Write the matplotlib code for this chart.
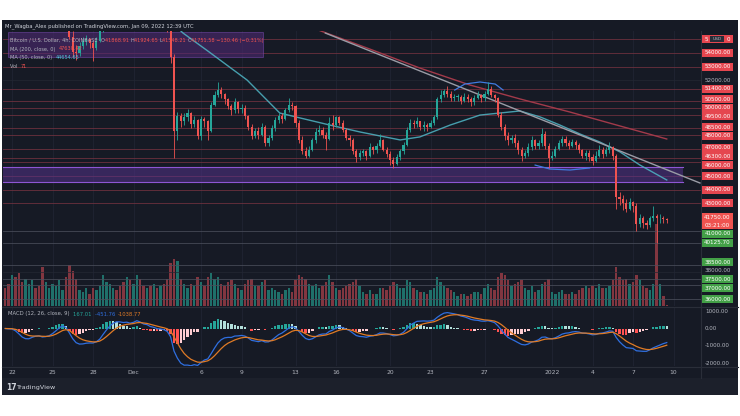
import numpy as np
import pandas as pd
import matplotlib
matplotlib.use("Agg")
import matplotlib.pyplot as plt
from matplotlib.patches import Rectangle
from matplotlib.lines import Line2D

# ---------------------------------------------------------------- data
# 6h candles, prices in thousand USD
candle_start = "2021-11-21 12:00"
candle_freq = "6h"
first_open_k = 59.0

closes_k = [
    58.9, 58.7,                 # Nov 21
    58.8, 57.9, 57.0, 56.3,     # Nov 22
    56.5, 56.9, 57.6, 57.5,     # Nov 23
    57.2, 56.4, 56.9, 57.1,     # Nov 24
    57.8, 58.4, 58.9, 58.9,     # Nov 25
    57.3, 55.2, 54.1, 54.0,     # Nov 26
    54.5, 54.9, 55.0, 54.7,     # Nov 27
    54.4, 54.9, 55.6, 57.0,     # Nov 28
    57.5, 57.9, 58.0, 57.8,     # Nov 29
    57.3, 57.1, 57.6, 57.0,     # Nov 30
    57.9, 58.5, 57.3, 56.9,     # Dec 1
    57.3, 56.6, 56.9, 56.5,     # Dec 2
    56.8, 56.6, 55.9, 53.7,     # Dec 3
    48.3, 49.4, 49.0, 49.3,     # Dec 4
    49.6, 48.8, 49.1, 47.9,     # Dec 5
    49.2, 49.0, 48.3, 50.2,     # Dec 6
    50.9, 51.3, 51.0, 50.6,     # Dec 7
    50.1, 49.8, 50.4, 49.9,     # Dec 8
    50.0, 49.4, 48.6, 47.9,     # Dec 9
    48.3, 48.0, 48.6, 47.4,     # Dec 10
    47.8, 48.5, 49.1, 49.4,     # Dec 11
    49.2, 49.8, 50.2, 50.1,     # Dec 12
    48.9, 47.6, 46.8, 46.5,     # Dec 13
    46.9, 47.6, 48.2, 48.4,     # Dec 14
    48.0, 47.7, 48.9, 48.7,     # Dec 15
    49.3, 48.9, 48.4, 47.8,     # Dec 16
    47.6, 46.8, 46.4, 46.7,     # Dec 17
    46.8, 46.5, 47.1, 46.9,     # Dec 18
    47.2, 47.6, 46.9, 46.6,     # Dec 19
    46.2, 45.9, 46.4, 46.8,     # Dec 20
    47.3, 48.4, 48.9, 48.8,     # Dec 21
    49.0, 48.6, 48.7, 48.6,     # Dec 22
    48.9, 49.3, 50.6, 50.9,     # Dec 23
    51.2, 51.0, 50.7, 50.8,     # Dec 24
    50.8, 50.5, 50.8, 50.6,     # Dec 25
    50.4, 50.7, 50.9, 50.7,     # Dec 26
    51.0, 51.4, 50.9, 50.7,     # Dec 27
    49.5, 48.6, 47.9, 47.6,     # Dec 28
    47.8, 47.4, 46.9, 46.5,     # Dec 29
    46.7, 47.1, 47.6, 47.2,     # Dec 30
    47.4, 48.1, 47.2, 46.3,     # Dec 31
    46.5, 47.0, 47.4, 47.7,     # Jan 1
    47.4, 47.2, 47.5, 47.3,     # Jan 2
    46.9, 46.5, 46.7, 46.4,     # Jan 3
    46.1, 46.5, 46.9, 46.6,     # Jan 4
    46.9, 47.1, 46.5, 43.5,     # Jan 5
    43.3, 43.0, 42.6, 43.1,     # Jan 6
    42.8, 41.5, 41.9, 41.6,     # Jan 7
    41.4, 41.9, 42.1, 41.9,     # Jan 8
    41.9, 41.88, 41.75,         # Jan 9
]
highs_k = [
    59.4, 59.1,
    59.1, 58.9, 58.0, 57.2,
    56.9, 57.2, 57.9, 57.8,
    57.6, 57.3, 57.1, 57.4,
    58.0, 58.7, 59.2, 59.3,
    59.0, 57.4, 55.6, 54.6,
    54.8, 55.2, 55.3, 55.1,
    54.9, 55.2, 55.9, 57.3,
    57.8, 58.4, 58.6, 58.2,
    58.0, 57.6, 58.3, 57.9,
    58.2, 59.1, 58.7, 57.5,
    57.5, 57.4, 57.1, 57.0,
    57.5, 57.0, 56.8, 56.0,
    53.9, 49.7, 49.6, 49.6,
    49.9, 49.7, 49.4, 49.2,
    49.4, 49.3, 49.1, 50.4,
    51.2, 51.9, 51.5, 51.1,
    50.7, 50.3, 50.7, 50.5,
    50.3, 50.2, 49.5, 48.8,
    48.5, 48.6, 48.9, 48.7,
    48.0, 48.7, 49.3, 49.6,
    49.6, 50.0, 50.7, 50.4,
    50.2, 49.1, 47.9, 47.1,
    47.2, 47.8, 48.5, 48.7,
    48.6, 48.2, 49.3, 49.5,
    49.4, 49.4, 49.1, 48.5,
    48.0, 47.8, 47.0, 46.9,
    47.0, 46.9, 47.4, 47.2,
    47.4, 48.1, 47.7, 47.1,
    46.8, 46.4, 46.6, 47.0,
    47.5, 48.6, 49.2, 49.1,
    49.3, 49.0, 49.0, 48.9,
    49.1, 49.5, 50.8, 51.3,
    51.4, 51.6, 51.2, 51.0,
    51.0, 50.9, 51.1, 51.0,
    50.8, 50.9, 51.2, 51.0,
    51.2, 51.9, 51.6, 51.0,
    50.8, 49.7, 48.8, 48.2,
    48.0, 48.1, 47.6, 47.1,
    46.9, 47.4, 47.9, 47.7,
    47.6, 48.5, 48.3, 47.4,
    46.8, 47.2, 47.6, 47.9,
    47.9, 47.6, 47.7, 47.6,
    47.4, 47.0, 46.9, 46.9,
    46.6, 46.8, 47.3, 47.1,
    47.1, 47.5, 47.2, 46.6,
    43.8, 43.6, 43.3, 43.4,
    43.2, 43.0, 42.2, 42.1,
    41.8, 42.1, 42.8, 42.2,
    42.2, 42.1, 41.92,
]
lows_k = [
    58.6, 58.3,
    58.4, 57.6, 56.8, 56.0,
    55.9, 56.3, 56.8, 57.1,
    56.9, 55.9, 56.2, 56.6,
    57.0, 57.7, 58.2, 58.5,
    57.0, 55.0, 53.7, 53.5,
    53.8, 54.3, 54.6, 54.4,
    53.4, 54.2, 54.8, 55.5,
    56.9, 57.3, 57.6, 57.3,
    57.0, 56.7, 56.9, 56.5,
    56.9, 57.7, 57.1, 56.5,
    56.7, 56.3, 56.4, 56.1,
    56.3, 56.2, 55.5, 53.3,
    46.3, 47.6, 48.6, 48.7,
    49.0, 48.5, 48.6, 47.7,
    47.6, 48.6, 47.6, 48.2,
    50.1, 50.8, 50.7, 50.3,
    49.9, 49.5, 49.6, 49.6,
    49.6, 49.2, 48.4, 47.7,
    47.8, 47.7, 47.9, 47.2,
    47.2, 47.6, 48.3, 48.9,
    48.9, 49.1, 49.7, 49.8,
    48.6, 47.4, 46.6, 46.3,
    46.4, 46.8, 47.4, 48.0,
    47.8, 46.9, 47.6, 48.4,
    48.6, 48.7, 48.2, 47.6,
    47.2, 46.6, 46.0, 46.2,
    46.5, 46.2, 46.4, 46.6,
    46.7, 47.1, 46.8, 46.4,
    45.8, 45.6, 45.8, 46.2,
    46.6, 47.2, 48.2, 48.5,
    48.6, 48.4, 48.3, 48.3,
    48.5, 48.7, 49.2, 50.4,
    50.8, 50.8, 50.5, 50.5,
    50.5, 50.3, 50.4, 50.4,
    50.1, 50.2, 50.6, 50.4,
    50.5, 50.9, 50.8, 50.4,
    49.3, 48.4, 47.6, 47.3,
    47.4, 47.1, 46.6, 46.1,
    46.3, 46.5, 46.9, 47.0,
    47.0, 47.2, 47.0, 45.6,
    46.2, 46.4, 46.9, 47.2,
    47.2, 47.0, 47.1, 47.0,
    46.7, 46.3, 46.2, 46.1,
    45.8, 46.0, 46.4, 46.3,
    46.5, 46.7, 46.2, 42.6,
    42.9, 42.5, 42.4, 42.5,
    42.4, 41.0, 41.3, 41.2,
    41.1, 41.3, 41.7, 40.13,
    41.6, 41.6, 41.55,
]
volumes = [
    900, 1100,
    1600, 1500, 1700, 1200,
    1400, 1100, 1300, 900,
    1000, 2000, 1200, 900,
    1100, 1000, 1300, 800,
    1500, 2100, 1800, 1400,
    800, 700, 900, 600,
    900, 800, 1000, 1600,
    1200, 1100, 900, 800,
    1000, 1200, 1500, 1300,
    1100, 1600, 1400, 1000,
    900, 1000, 1100, 900,
    1000, 1100, 1400, 2200,
    2400, 2300, 1400, 1100,
    900, 1100, 1000, 1500,
    1200, 1000, 1500, 1700,
    1400, 1500, 1100, 1000,
    1200, 1300, 1100, 900,
    800, 1100, 1300, 1400,
    1000, 1000, 1200, 1300,
    800, 900, 800, 700,
    600, 800, 900, 700,
    1300, 1600, 1500, 1400,
    1100, 1000, 1100, 900,
    1000, 1200, 1600, 1200,
    900, 800, 900, 1000,
    1100, 1200, 1400, 1000,
    700, 600, 800, 600,
    600, 900, 900, 800,
    1000, 1200, 1100, 900,
    900, 1300, 1200, 900,
    800, 700, 700, 600,
    800, 900, 1500, 1200,
    1000, 900, 800, 700,
    500, 600, 600, 500,
    600, 700, 700, 600,
    900, 1100, 900, 800,
    1500, 1700, 1600, 1300,
    1000, 1100, 1200, 1300,
    900, 800, 1000, 700,
    800, 1100, 1200, 1400,
    700, 600, 700, 800,
    600, 600, 700, 600,
    800, 900, 1000, 900,
    1000, 900, 1100, 900,
    900, 1000, 1300, 2000,
    1500, 1300, 1400, 1100,
    1200, 1600, 1300, 1000,
    900, 800, 1100, 4200,
    1100, 500, 71,
]

ma50_times = ["2021-12-04 00:00", "2021-12-04 16:00", "2021-12-06 12:00", "2021-12-09 10:00",
              "2021-12-11 20:00", "2021-12-13 08:00", "2021-12-15 13:00", "2021-12-17 19:00",
              "2021-12-20 18:00", "2021-12-22 05:00", "2021-12-24 11:00", "2021-12-26 16:00",
              "2021-12-29 15:00", "2021-12-31 03:00", "2022-01-01 14:00", "2022-01-03 02:00",
              "2022-01-04 13:00", "2022-01-06 01:00", "2022-01-07 12:00", "2022-01-09 12:00"]
ma50_values = [56100, 55460, 54150, 52020, 49610, 49250, 48730, 48220, 47640, 47860,
               48730, 49460, 49760, 49320, 48730, 48070, 47490, 46760, 45810, 44710]

ma200_times = ["2021-12-14 02:00", "2021-12-18 12:00", "2021-12-22 05:00", "2021-12-25 22:00",
               "2021-12-29 15:00", "2022-01-02 08:00", "2022-01-06 01:00", "2022-01-09 12:00"]
ma200_values = [55900, 54290, 52900, 51660, 50640, 49680, 48660, 47710]

trend_times = ["2021-12-15 05:00", "2022-01-11 23:00"]
trend_values = [55460, 44490]

arc_top_times = ["2021-12-24 19:00", "2021-12-25 13:00", "2021-12-26 16:00",
                 "2021-12-27 19:00", "2021-12-28 09:00"]
arc_top_values = [51290, 51730, 51880, 51730, 51290]
arc_low_times = ["2021-12-30 18:00", "2021-12-31 20:00", "2022-01-02 08:00", "2022-01-03 19:00"]
arc_low_values = [45800, 45515, 45440, 45590]

resistance_levels = [55000, 54000, 53000, 51400, 50500, 50000, 49500, 48500, 48000,
                     47000, 46300, 46000, 45000, 44000, 43000]
support_levels = [41000, 40125.70, 38500, 37500, 37000, 36000]
axis_ticks = [52000, 38000]
macd_ticks = [1000, 0, -1000, -2000]

zone_low, zone_high, zone_end = 44560, 45660, "2022-01-10 17:00"
box_t0, box_t1, box_low, box_high = "2021-11-21 17:00", "2021-12-10 14:00", 53700, 55550

tick_dates = ["2021-11-22", "2021-11-25", "2021-11-28", "2021-12-01", "2021-12-06",
              "2021-12-09", "2021-12-13", "2021-12-16", "2021-12-20", "2021-12-23",
              "2021-12-27", "2022-01-01", "2022-01-04", "2022-01-07", "2022-01-10"]
tick_labels = ["22", "25", "28", "Dec", "6", "9", "13", "16", "20", "23", "27",
               "2022", "4", "7", "10"]

# ---------------------------------------------------------------- prep
n = min(len(closes_k), len(highs_k), len(lows_k), len(volumes))
times = pd.date_range(candle_start, periods=n, freq=candle_freq)
REF = pd.Timestamp("2021-11-22")


def to_day(ts):
    return np.asarray((pd.to_datetime(ts) - REF) / pd.Timedelta("1D"), dtype=float)


xd = to_day(times)
close = np.array(closes_k[:n]) * 1000
high = np.array(highs_k[:n]) * 1000
low = np.array(lows_k[:n]) * 1000
opn = np.concatenate([[first_open_k * 1000], close[:-1]])
vol = np.array(volumes[:n], dtype=float)
up = close >= opn

# MACD(12, 26, 9) of the 4h chart: same time constants expressed in 6h bars
bar_ratio = 4 / 6
cs = pd.Series(close)
macd = (cs.ewm(span=12 * bar_ratio, adjust=False).mean()
        - cs.ewm(span=26 * bar_ratio, adjust=False).mean())
signal = macd.ewm(span=9 * bar_ratio, adjust=False).mean()
hist = (macd - signal).to_numpy()
prev = np.concatenate([[0.0], hist[:-1]])

# ---------------------------------------------------------------- layout (pixels)
W, H = 740, 416
BG = "#161a25"
FOOT = "#1c202b"
SEP = "#2a2e39"
GREY = "#b2b5be"
RED = "#ef5350"
GREEN = "#26a69a"

fig = plt.figure(figsize=(W / 100, H / 100), dpi=100)
fig.patch.set_facecolor("white")


def fx(px):
    return px / W


def fy(py):
    return 1 - py / H


def add_ax(l, t, r, b, z=1):
    a = fig.add_axes([fx(l), fy(b), (r - l) / W, (b - t) / H], zorder=z)
    a.set_axis_off()
    return a


fig.add_artist(Rectangle((fx(2), fy(395)), 736 / W, 375 / H, transform=fig.transFigure,
                         facecolor=BG, edgecolor="none", zorder=0))
fig.add_artist(Rectangle((fx(2), fy(395)), 736 / W, 17 / H, transform=fig.transFigure,
                         facecolor=FOOT, edgecolor="none", zorder=0))

PL, PT, PR, PB = 3, 31, 701, 306
MT, MB = 308, 366
X0_PX, PX_PER_DAY = 12, 13.5
xlim = ((PL - X0_PX) / PX_PER_DAY, (PR - X0_PX) / PX_PER_DAY)
PRICE_REF_PX, PRICE_REF, PX_PER_K = 53, 54000, 13.67
pmax = PRICE_REF + (PRICE_REF_PX - PT) / PX_PER_K * 1000
pmin = PRICE_REF - (PB - PRICE_REF_PX) / PX_PER_K * 1000
MACD_ZERO_PX, MACD_PX_PER_K = 328.5, 17.3
mmax = (MACD_ZERO_PX - MT) / MACD_PX_PER_K * 1000
mmin = -(MB - MACD_ZERO_PX) / MACD_PX_PER_K * 1000

axv = add_ax(PL, PT, PR, PB, z=1)
ax = add_ax(PL, PT, PR, PB, z=2)
axm = add_ax(PL, MT, PR, MB, z=2)
for a in (ax, axv, axm):
    a.set_xlim(*xlim)
    a.patch.set_alpha(0)
ax.set_ylim(pmin, pmax)
axv.set_ylim(0, 14000)
axm.set_ylim(mmin, mmax)

# vertical grid
for d in to_day(tick_dates):
    for a in (axv, axm):
        a.axvline(d, color="#1f2331", lw=0.7, zorder=0)

# level lines
for lv in resistance_levels:
    ax.axhline(lv, color="#7a3442", lw=0.6, alpha=0.85, zorder=1)
for lv in support_levels:
    ax.axhline(lv, color="#4a4e5b", lw=0.6, alpha=0.9, zorder=1)
for lv in axis_ticks:
    ax.axhline(lv, color="#232733", lw=0.5, zorder=0.5)

# purple zone and box
z0 = xlim[0]
z1 = float(to_day([zone_end])[0])
ax.add_patch(Rectangle((z0, zone_low), z1 - z0, zone_high - zone_low, facecolor="#54328a",
                       alpha=0.55, edgecolor="none", zorder=1.5))
ax.plot([z0, z1], [zone_high, zone_high], color="#8e56d4", lw=0.8, zorder=1.6)
ax.plot([z0, z1], [zone_low, zone_low], color="#8e56d4", lw=0.8, zorder=1.6)
b0, b1 = to_day([box_t0, box_t1])
ax.add_patch(Rectangle((b0, box_low), b1 - b0, box_high - box_low, facecolor="#4e2a72",
                       alpha=0.6, edgecolor="#7b4bb0", lw=0.6, zorder=1.5))

# volume
vcol = np.where(up, "#217a72", "#8f3a44")
axv.bar(xd, vol, width=0.17, color=vcol, alpha=0.9, zorder=1)

# MAs, trendline, drawings
ax.plot(to_day(ma200_times), ma200_values, color="#a23a4a", lw=1.0, zorder=3)
ax.plot(to_day(ma50_times), ma50_values, color="#4fb6c6", lw=1.0, alpha=0.85, zorder=3)
ax.plot(to_day(trend_times), trend_values, color="#9a9ca6", lw=1.0, zorder=3)
ax.plot(to_day(arc_top_times), arc_top_values, color="#3f7be0", lw=0.9, zorder=3.5)
ax.plot(to_day(arc_low_times), arc_low_values, color="#3f7be0", lw=0.9, zorder=3.5)

# candles
ccol = np.where(up, GREEN, RED)
ax.vlines(xd, low, high, colors=ccol, lw=0.6, zorder=4)
body = close - opn
body = np.where(np.abs(body) < 40, np.where(body >= 0, 40, -40), body)
ax.bar(xd, body, bottom=opn, width=0.16, color=ccol, edgecolor="none", zorder=4.5)

# MACD pane
hcol = np.where(hist >= 0, np.where(hist >= prev, "#26a69a", "#b2dfdb"),
                np.where(hist < prev, "#ff5252", "#ffcdd2"))
axm.bar(xd, hist, width=0.17, color=hcol, zorder=2)
axm.plot(xd, macd, color="#2f6fe0", lw=0.9, zorder=3)
axm.plot(xd, signal, color="#e07b25", lw=0.9, zorder=3)

# separators
for (x0, y0, x1, y1) in [(2, PB + 1, 738, PB + 1), (2, 367, 738, 367), (701, 31, 701, 378)]:
    fig.add_artist(Line2D([fx(x0), fx(x1)], [fy(y0), fy(y1)], color=SEP, lw=0.8,
                          transform=fig.transFigure, zorder=5))

# ---------------------------------------------------------------- texts
renderer = fig.canvas.get_renderer()


def put(x, y, s, color, size, ha="left", va="center", weight="normal"):
    return fig.text(fx(x), fy(y), s, color=color, fontsize=size, ha=ha, va=va,
                    fontweight=weight, zorder=10)


def fit_size(pieces, width):
    t = fig.text(0, 0, "".join(p for p, _ in pieces), fontsize=10)
    w = t.get_window_extent(renderer).width
    t.remove()
    return 10 * width / w


def seq(x, y, pieces, size):
    for s, c in pieces:
        t = put(x, y, s, c, size)
        x += t.get_window_extent(renderer).width
    return x


header = [("Mr_Wagba_Alex published on TradingView.com, Jan 09, 2022 12:39 UTC", "#d1d4dc")]
seq(5, 26, header, fit_size(header, 187))

line1 = [("Bitcoin / U.S. Dollar, 4h, COINBASE  ", GREY), ("O", GREY), ("41868.91 ", RED),
         ("H", GREY), ("41924.65 ", RED), ("L", GREY), ("41548.21 ", RED), ("C", GREY),
         ("41751.58 −130.46 (−0.31%)", RED)]
s1 = fit_size(line1, 253)
seq(10, 40.5, line1, s1)
seq(10, 49, [("MA (200, close, 0)  ", GREY), ("47630.42", RED)], s1)
seq(10, 57.5, [("MA (50, close, 0)  ", GREY), ("44654.65", "#4fc3d4")], s1)
seq(10, 66, [("Vol  ", GREY), ("71", RED)], s1)

macd_leg = [("MACD (12, 26, close, 9)  ", GREY), ("167.01  ", "#26a69a"),
            ("-451.76  ", "#2f6fe0"), ("-1038.77", "#e07b25")]
seq(8, 314, macd_leg, fit_size(macd_leg, 135))

for d, lab in zip(to_day(tick_dates), tick_labels):
    put(X0_PX + d * PX_PER_DAY, 372, lab, GREY, 4.3, ha="center")

put(6, 387, "17", "#d1d4dc", 5.5, weight="bold")
put(16, 387, "TradingView", "#d1d4dc", 4.6)


# price scale labels with de-overlap
def p2px(p):
    return PT + (pmax - p) / (pmax - pmin) * (PB - PT)


labels = []
for lv in resistance_levels:
    labels.append({"y": p2px(lv), "h": 8.0, "kind": "red", "txt": f"{lv:.2f}"})
for lv in support_levels:
    labels.append({"y": p2px(lv), "h": 8.0, "kind": "green", "txt": f"{lv:.2f}"})
for lv in axis_ticks:
    labels.append({"y": p2px(lv), "h": 8.0, "kind": "axis", "txt": f"{lv:.2f}"})
last_close = close[-1]
labels.append({"y": p2px(last_close) + 4, "h": 16.0, "kind": "cur",
               "txt": f"{last_close:.2f}"})

gap = 0.6
for _ in range(300):
    moved = False
    labels.sort(key=lambda it: it["y"])
    for a, b in zip(labels[:-1], labels[1:]):
        need = (a["h"] + b["h"]) / 2 + gap
        dist = b["y"] - a["y"]
        if dist < need - 1e-6:
            sh = (need - dist) / 2
            a["y"] -= sh
            b["y"] += sh
            moved = True
    if not moved:
        break

BX0, BX1 = 702, 733
for it in labels:
    y, h = it["y"], it["h"]
    if it["kind"] == "axis":
        put((BX0 + BX1) / 2, y, it["txt"], GREY, 4.1, ha="center")
        continue
    fc = {"red": "#e5464f", "green": "#43a047", "cur": "#ef5350"}[it["kind"]]
    fig.add_artist(Rectangle((fx(BX0), fy(y + h / 2)), (BX1 - BX0) / W, h / H,
                             transform=fig.transFigure, facecolor=fc, edgecolor="none",
                             zorder=8))
    if it["kind"] == "cur":
        put((BX0 + BX1) / 2, y - 3.8, it["txt"], "white", 4.1, ha="center")
        put((BX0 + BX1) / 2, y + 3.8, "03:21:00", "white", 4.1, ha="center")
    elif it["txt"] == "55000.00":
        # the "USD" currency badge covers the middle of this label
        put(BX0 + 3, y, it["txt"][:1], "white", 4.1)
        put(BX1 - 3, y, it["txt"][-1:], "white", 4.1, ha="right")
        fig.add_artist(Rectangle((fx(710), fy(y + 3)), 14 / W, 6 / H,
                                 transform=fig.transFigure, facecolor="#2a2e39",
                                 edgecolor="none", zorder=11))
        put(717, y, "USD", GREY, 3.2, ha="center").set_zorder(12)
    else:
        put((BX0 + BX1) / 2, y, it["txt"], "white", 4.1, ha="center")

for v in macd_ticks:
    ypx = MACD_ZERO_PX - v / 1000 * MACD_PX_PER_K
    put(705, ypx, f"{v:.2f}", GREY, 4.1)

fig.savefig("out.png", dpi=100, facecolor="white")
